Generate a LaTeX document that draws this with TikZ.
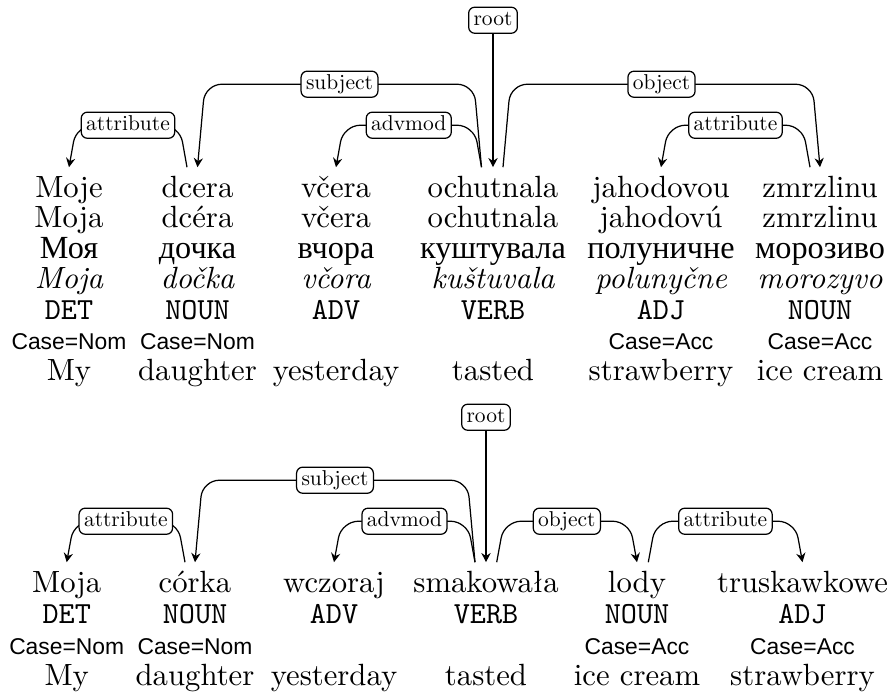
\documentclass[tikz,border=0pt]{standalone}
\usepackage{fontspec}
\newfontfamily\casefont[Scale=0.93]{Liberation Sans}
\newfontfamily\cyrtext[Extension=.ttf, Scale=1.05]{LiberationSerif-Regular}
\newfontfamily\labfont[Extension=.otf, Scale=0.7]{lmroman10-regular}
\usetikzlibrary{calc,arrows.meta}

\tikzset{
  word/.style={anchor=base, inner sep=0pt},
  headword/.style={anchor=base, inner sep=2.5pt, text height=7pt},
  lab/.style={draw, fill=white, rounded corners=2pt, font=\labfont,
    inner xsep=1.6pt, inner ysep=1.1pt, text height=4.9pt, text depth=1.4pt},
  dep/.style={rounded corners=5.5pt, -{Stealth[length=3pt,width=3pt,inset=1pt]}},
}

\begin{document}
\begin{tikzpicture}[x=0.3257pt, y=-0.3257pt]
  \useasboundingbox (0,0) rectangle (890,696);

  % upper sentence: Czech, Slovak, Ukrainian
  \foreach \x/\w [count=\i] in {69/Moje,197.5/dcera,336/včera,493/ochutnala,661/jahodovou,820/zmrzlinu}
    \node[headword] (cz\i) at (\x,197) {\w};
  \foreach \x/\w [count=\i] in {69/Moja,197.5/dcéra,336/včera,493/ochutnala,661/jahodovú,820/zmrzlinu}
    \node[word] (sk\i) at (\x,227.5) {\w};
  \foreach \x/\w [count=\i] in {69/Моя,197.5/дочка,336/вчора,493/куштувала,661/полуничне,820/морозиво}
    \node[word, font=\cyrtext] (uk\i) at (\x,258) {\w};
  \foreach \x/\w [count=\i] in {69/Moja,197.5/dočka,336/včora,493/kuštuvala,661/polunyčne,820/morozyvo}
    \node[word, font=\itshape] (tr\i) at (\x,288.5) {\w};
  \foreach \x/\w [count=\i] in {69/DET,197.5/NOUN,336/ADV,493/VERB,661/ADJ,820/NOUN}
    \node[word, font=\ttfamily] (pos\i) at (\x,319) {\w};
  \foreach \x/\w/\i in {69/Nom/1,197.5/Nom/2,661/Acc/5,820/Acc/6}
    \node[word, font=\casefont\footnotesize] (case\i) at (\x,349.5) {Case=\w};
  \foreach \x/\w [count=\i] in {69/My,197.5/daughter,336/yesterday,493/tasted,661/strawberry,820/ice cream}
    \node[word] (en\i) at (\x,380) {\w};

  % arcs of the upper sentence
  \node[lab] (root1) at ($(cz4.north)+(0,-147)$) {root};
  \draw[dep] (root1) -- (cz4.north);
  \foreach \a/\o/\b/\s/\h/\t [count=\i] in {cz2/-10.5/cz1/-7.5/42/attribute,
      cz4/-11.5/cz2/-7.5/83/subject, cz4/-11.5/cz3/-7.5/42/advmod,
      cz4/10/cz6/7.5/83/object, cz6/-10/cz5/-7.5/42/attribute}
    \draw[dep] ($(\a.north)+(\o,0)$) -- ($(\a.north)+(\o+\s,-\h)$)
      -- node[lab] (arcA\i) {\t} ($(\b.north)+(-\s,-\h)$) -- (\b.north);

  % lower sentence: Polish
  \foreach \x/\w [count=\i] in {66.7/Moja,195/córka,334/wczoraj,486/smakowała,637/lody,802.5/truskawkowe}
    \node[headword] (pl\i) at (\x,592) {\w};
  \foreach \x/\w [count=\i] in {66.7/DET,195/NOUN,334/ADV,486/VERB,637/NOUN,802.5/ADJ}
    \node[word, font=\ttfamily] (ppos\i) at (\x,623) {\w};
  \foreach \x/\w/\i in {66.7/Nom/1,195/Nom/2,637/Acc/5,802.5/Acc/6}
    \node[word, font=\casefont\footnotesize] (pcase\i) at (\x,654) {Case=\w};
  \foreach \x/\w [count=\i] in {66.7/My,195/daughter,334/yesterday,486/tasted,637/ice cream,802.5/strawberry}
    \node[word] (pen\i) at (\x,685) {\w};

  % arcs of the lower sentence
  \node[lab] (root2) at ($(pl4.north)+(0,-145)$) {root};
  \draw[dep] (root2) -- (pl4.north);
  \foreach \a/\o/\b/\s/\h/\t [count=\i] in {pl2/-10/pl1/-7.5/41/attribute,
      pl4/-11/pl2/-7.5/82/subject, pl4/-11/pl3/-7.5/41/advmod,
      pl4/10.7/pl5/7.5/41/object, pl5/11.3/pl6/7.5/41/attribute}
    \draw[dep] ($(\a.north)+(\o,0)$) -- ($(\a.north)+(\o+\s,-\h)$)
      -- node[lab] (arcB\i) {\t} ($(\b.north)+(-\s,-\h)$) -- (\b.north);
\end{tikzpicture}
\end{document}
